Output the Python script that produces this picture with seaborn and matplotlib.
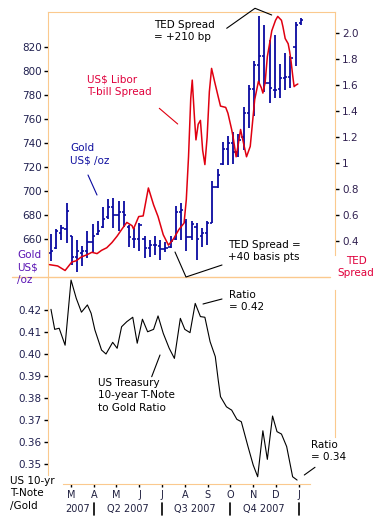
import pandas as pd
import matplotlib
matplotlib.use("Agg")
import matplotlib.pyplot as plt
import matplotlib.dates as mdates
from matplotlib.lines import Line2D
import seaborn as sns

# weekly gold bars (US$/oz), one per Friday
gold_weeks = pd.date_range("2007-02-02", periods=49, freq="7D")
gold_high = [664, 668, 671, 690, 662, 659, 654, 666, 672, 675, 686, 693, 694, 691, 691, 671, 669,
             673, 662, 659, 662, 659, 657, 662, 687, 690, 676, 675, 673, 669, 675, 708, 718, 741,
             746, 749, 747, 770, 788, 808, 846, 838, 826, 830, 806, 815, 812, 841, 844]
gold_low = [641, 651, 659, 656, 638, 632, 637, 644, 649, 663, 669, 676, 669, 666, 670, 653, 652,
            650, 644, 645, 646, 642, 649, 652, 659, 659, 650, 659, 642, 653, 655, 673, 702, 721,
            721, 722, 728, 734, 752, 762, 790, 782, 773, 777, 777, 784, 786, 804, 838]
gold_open = [648, 652, 665, 668, 662, 645, 648, 650, 657, 664, 670, 678, 686, 680, 682, 670, 660,
             660, 660, 652, 655, 654, 651, 653, 660, 682, 674, 661, 670, 662, 665, 673, 703, 722,
             735, 740, 732, 745, 765, 785, 805, 812, 790, 784, 785, 794, 795, 820, 840]
gold_close = [650, 666, 669, 683, 645, 650, 650, 657, 662, 666, 676, 686, 680, 682, 680, 661, 660,
              671, 652, 655, 655, 651, 652, 658, 682, 684, 661, 672, 660, 665, 673, 703, 713, 735,
              740, 732, 742, 765, 785, 805, 812, 790, 786, 784, 794, 795, 811, 838, 842]

# US$ Libor - T-bill (TED) spread, %
ted_dates = ["2007-01-31", "2007-02-11", "2007-02-21", "2007-03-02", "2007-03-08", "2007-03-15",
             "2007-03-22", "2007-03-29", "2007-04-05", "2007-04-11", "2007-04-18", "2007-04-25",
             "2007-05-02", "2007-05-08", "2007-05-15", "2007-05-22", "2007-05-24", "2007-05-31",
             "2007-06-06", "2007-06-13", "2007-06-20", "2007-06-26", "2007-07-03", "2007-07-10",
             "2007-07-17", "2007-07-24", "2007-07-31", "2007-08-03", "2007-08-06", "2007-08-09",
             "2007-08-11", "2007-08-14", "2007-08-16", "2007-08-19", "2007-08-22", "2007-08-25",
             "2007-08-28", "2007-08-31", "2007-09-03", "2007-09-06", "2007-09-10", "2007-09-15",
             "2007-09-18", "2007-09-25", "2007-09-28", "2007-10-03", "2007-10-05", "2007-10-09",
             "2007-10-12", "2007-10-15", "2007-10-18", "2007-10-23", "2007-10-28", "2007-10-31",
             "2007-11-03", "2007-11-08", "2007-11-12", "2007-11-14", "2007-11-17", "2007-11-20",
             "2007-11-23", "2007-11-26", "2007-12-01", "2007-12-04", "2007-12-09", "2007-12-11",
             "2007-12-14", "2007-12-18", "2007-12-20", "2007-12-22", "2007-12-24", "2007-12-26",
             "2007-12-28", "2007-12-31"]
ted_spread = [0.22, 0.21, 0.175, 0.24, 0.25, 0.28, 0.295, 0.315, 0.305, 0.33, 0.35, 0.39,
              0.44, 0.49, 0.545, 0.52, 0.495, 0.59, 0.595, 0.81, 0.68, 0.59, 0.45, 0.37,
              0.42, 0.49, 0.54, 0.72, 1.05, 1.5, 1.64, 1.35, 1.18, 1.3, 1.33, 1.1,
              0.99, 1.2, 1.55, 1.73, 1.63, 1.51, 1.44, 1.43, 1.385, 1.26, 1.2, 1.05,
              1.15, 1.26, 1.18, 1.05, 1.13, 1.31, 1.49, 1.63, 1.58, 1.54, 1.62, 1.82,
              1.92, 2.02, 2.10, 2.13, 2.10, 2.05, 1.96, 1.92, 1.86, 1.78, 1.68, 1.59,
              1.60, 1.61]

# US 10-year T-note to gold ratio
ratio_dates = ["2007-02-02", "2007-02-07", "2007-02-13", "2007-02-21", "2007-03-01", "2007-03-08",
               "2007-03-15", "2007-03-23", "2007-03-28", "2007-04-02", "2007-04-11", "2007-04-17",
               "2007-04-26", "2007-05-02", "2007-05-08", "2007-05-15", "2007-05-23", "2007-05-29",
               "2007-06-05", "2007-06-12", "2007-06-20", "2007-06-26", "2007-07-03", "2007-07-11",
               "2007-07-18", "2007-07-26", "2007-08-01", "2007-08-08", "2007-08-15", "2007-08-22",
               "2007-08-28", "2007-09-04", "2007-09-11", "2007-09-15", "2007-09-18", "2007-09-26",
               "2007-10-01", "2007-10-03", "2007-10-10", "2007-10-16", "2007-10-25", "2007-11-01",
               "2007-11-07", "2007-11-14", "2007-11-20", "2007-11-27", "2007-12-03", "2007-12-09",
               "2007-12-16", "2007-12-24", "2007-12-30"]
ratio_values = [0.4203, 0.4112, 0.4117, 0.404, 0.4336, 0.4253, 0.419, 0.4223, 0.4185, 0.411,
                0.4018, 0.400, 0.4053, 0.4026, 0.4124, 0.4147, 0.4167, 0.4049, 0.4158, 0.4101,
                0.4112, 0.4173, 0.4094, 0.4026, 0.398, 0.4162, 0.4112, 0.4097, 0.423, 0.417,
                0.4167, 0.4056, 0.3988, 0.388, 0.3806, 0.376, 0.3749, 0.3745, 0.3703, 0.3692,
                0.3579, 0.3495, 0.3442, 0.3651, 0.3521, 0.3718, 0.3647, 0.3636, 0.3579, 0.3442,
                0.3427]

gold_ticks = [660, 680, 700, 720, 740, 760, 780, 800, 820]
ted_ticks = [0.4, 0.6, 0.8, 1.0, 1.2, 1.4, 1.6, 1.8, 2.0]
ted_tick_labels = ["0.4", "0.6", "0.8", "1", "1.2", "1.4", "1.6", "1.8", "2.0"]
ratio_ticks = [0.35, 0.36, 0.37, 0.38, 0.39, 0.40, 0.41, 0.42]
month_ticks = pd.date_range("2007-03-01", "2008-01-01", freq="MS")
month_labels = ["M", "A", "M", "J", "J", "A", "S", "O", "N", "D", "J"]
quarter_labels = ["2007", "Q2 2007", "Q3 2007", "Q4 2007"]
quarter_centers = pd.to_datetime(["2007-03-10", "2007-05-16", "2007-08-15", "2007-11-15"])
quarter_breaks = pd.to_datetime(["2007-04-01", "2007-07-01", "2007-10-01", "2008-01-01"])

sns.set_style("white")
plt.rcParams["font.family"] = ["DejaVu Sans"]

ORANGE = "#fbc98e"
BLUE = "#0a0aa0"
RED = "#e00010"
W, H = 378, 527
FS = 7.5

fig = plt.figure(figsize=(W / 100, H / 100), dpi=100)
ax1 = fig.add_axes([48 / W, 1 - 277 / H, 287 / W, 265 / H])
ax2 = ax1.twinx()
ax3 = fig.add_axes([48 / W, 1 - 484 / H, 287 / W, 207 / H])
xlim = (pd.Timestamp("2007-01-29"), pd.Timestamp("2008-02-19"))

# gold bars
ax1.vlines(gold_weeks, gold_low, gold_high, color=BLUE, lw=1.3)
ax1.hlines(gold_open, gold_weeks - pd.Timedelta(days=3), gold_weeks, color=BLUE, lw=1.2)
ax1.hlines(gold_close, gold_weeks, gold_weeks + pd.Timedelta(days=3), color=BLUE, lw=1.2)
ax1.set_xlim(*xlim)
ax1.set_ylim(628, 849)
ax1.set_yticks(gold_ticks)
ax1.tick_params(axis="y", left=True, length=3, width=1, color="black", pad=1.5,
                labelsize=FS, labelcolor="#202050")
ax1.tick_params(axis="x", bottom=False, labelbottom=False)

# TED spread
sns.lineplot(x=pd.to_datetime(ted_dates), y=ted_spread, ax=ax2, color=RED, lw=1.1)
ax2.set_xlim(*xlim)
ax2.set_ylim(0.125, 2.164)
ax2.set_yticks(ted_ticks)
ax2.set_yticklabels(ted_tick_labels)
ax2.tick_params(axis="y", right=True, length=3, width=1, color="black", pad=2,
                labelsize=FS, labelcolor="#302050")
ax2.tick_params(axis="x", bottom=False, labelbottom=False)
ax2.set_xlabel("")
ax2.set_ylabel("")

for s in ["top", "left"]:
    ax1.spines[s].set_color(ORANGE)
ax1.spines["bottom"].set_visible(False)
ax1.spines["right"].set_visible(False)
for s in ["top", "left", "bottom"]:
    ax2.spines[s].set_visible(False)
ax2.spines["right"].set_color(ORANGE)
ax2.spines["right"].set_bounds(0.295, 2.164)

# ratio panel
sns.lineplot(x=pd.to_datetime(ratio_dates), y=ratio_values, ax=ax3, color="black", lw=0.8)
ax3.set_xlim(*xlim)
ax3.set_ylim(0.3409, 0.435)
ax3.set_yticks(ratio_ticks)
ax3.set_yticklabels([f"{v:.2f}" for v in ratio_ticks])
ax3.set_xticks(month_ticks)
ax3.set_xticklabels(month_labels)
ax3.tick_params(axis="y", left=True, length=3, width=1, color="black", pad=1.5,
                labelsize=FS, labelcolor="#202050")
ax3.tick_params(axis="x", bottom=True, length=2.5, width=1, color="black", pad=2,
                labelsize=7, labelcolor="#202040")
ax3.set_xlabel("")
ax3.set_ylabel("")
ax3.spines["top"].set_visible(False)
for s in ["left", "right", "bottom"]:
    ax3.spines[s].set_color(ORANGE)
ax3.spines["left"].set_bounds(0.345, 0.435)
ax3.spines["right"].set_bounds(0.3623, 0.429)
ax3.spines["bottom"].set_bounds(mdates.date2num(pd.Timestamp("2007-02-18")),
                                mdates.date2num(pd.Timestamp("2008-01-17")))

tr = ax3.get_xaxis_transform()
for lab, c in zip(quarter_labels, quarter_centers):
    ax3.text(c, -0.121, lab, transform=tr, ha="center", va="center", fontsize=7, color="#202040")
for b in quarter_breaks:
    ax3.plot([b, b], [-0.092, -0.150], transform=tr, color="black", lw=1.2, clip_on=False)

# separator between panels
fig.add_artist(Line2D([12 / W, 330 / W], [1 - 276.5 / H, 1 - 276.5 / H], color=ORANGE, lw=1))


def ftext(x, y, s, color="black", ha="left"):
    fig.text(x / W, 1 - y / H, s, ha=ha, va="top", fontsize=FS, color=color,
             linespacing=1.3, multialignment="center" if ha == "center" else "left")


def fline(pts, color="black"):
    fig.add_artist(Line2D([p[0] / W for p in pts], [1 - p[1] / H for p in pts],
                          color=color, lw=0.8))


ftext(154, 20, "TED Spread\n= +210 bp")
fline([(226.7, 28.3), (255, 8.3), (271.7, 15)])
ftext(87, 75, "US$ Libor\nT-bill Spread", color="#e0003c")
fline([(159.3, 108.3), (177.7, 124)], color=RED)
ftext(70, 143, "Gold\nUS$ /oz", color="#1010a0")
fline([(88, 175), (97, 195)], color=BLUE)
ftext(17, 250, "Gold\nUS$\n/oz", color="#5a14b4")
ftext(356, 256, "TED\nSpread", color="#e0003c", ha="center")
ftext(228, 240, "TED Spread =\n+40 basis pts")
fline([(175, 252), (186, 277), (222, 265)])
ftext(229, 290, "Ratio\n= 0.42")
fline([(203, 304), (222, 299)])
ftext(98, 378, "US Treasury\n10-year T-Note\nto Gold Ratio")
fline([(151.7, 376.7), (160, 355)])
ftext(311, 440, "Ratio\n= 0.34")
fline([(304.3, 475), (315, 467.3)])
ftext(10, 476, "US 10-yr\nT-Note\n/Gold")

fig.savefig("out.png", dpi=100)
